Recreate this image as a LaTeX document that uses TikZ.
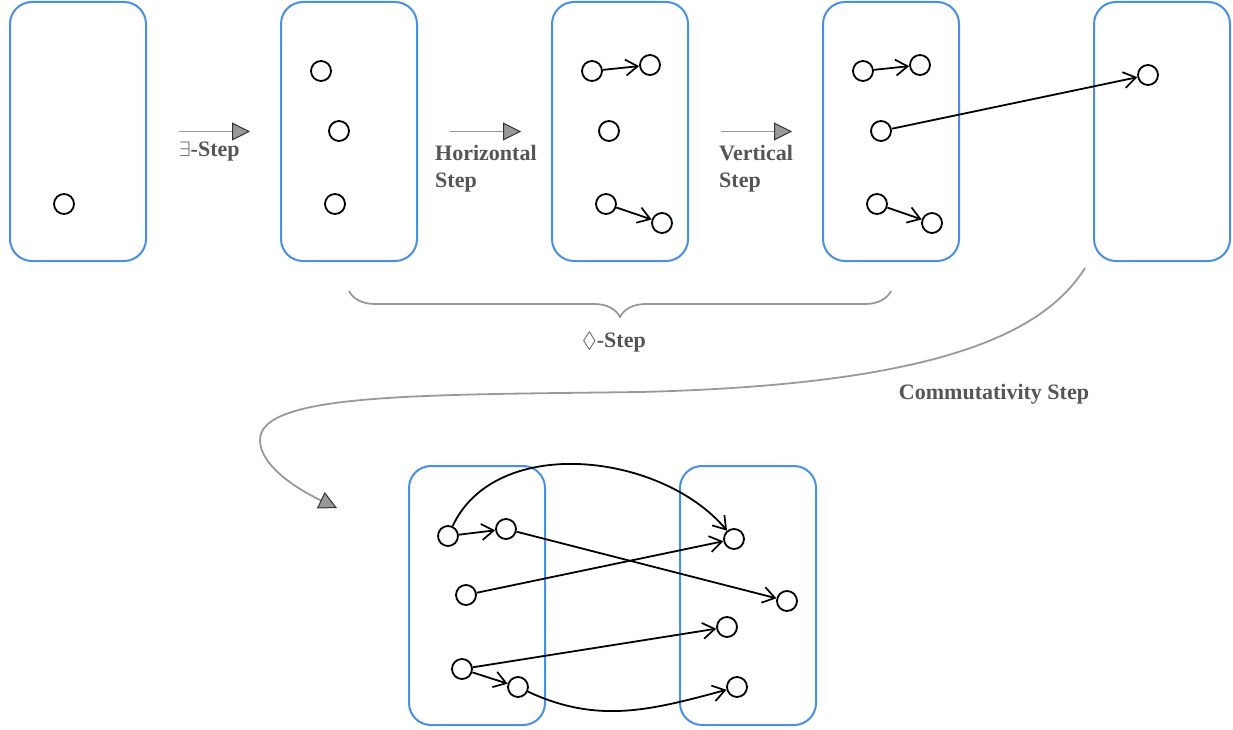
\documentclass[tikz,border=0pt]{standalone}
\usepackage{amssymb}
\usepackage{fontspec}
\setmainfont{Liberation Serif}
\usetikzlibrary{arrows.meta,decorations.pathreplacing}
\definecolor{boxblue}{RGB}{74,144,226}
\definecolor{stepgray}{RGB}{153,153,153}
\definecolor{txtgray}{RGB}{85,85,85}
\begin{document}
\begin{tikzpicture}[x=1pt,y=1pt,
  box/.style={draw=boxblue,line width=2pt,rounded corners=22pt,minimum width=136pt,minimum height=259pt,inner sep=0},
  dot/.style={circle,draw=black,fill=white,line width=1.8pt,minimum size=20pt,inner sep=0},
  lnk/.style={-{Straight Barb[length=12pt,width=16pt,line width=1.7pt]},line width=1.8pt},
  stepar/.style={draw=stepgray,line width=1.8pt,-{Triangle[length=18pt,width=18pt,color=black!80,fill=stepgray,line width=1pt]}},
  bracestyle/.style={draw=stepgray,line width=1.8pt,decorate,decoration={brace,mirror,amplitude=26pt}},
  lbl/.style={text=txtgray,font=\fontsize{22}{27}\selectfont\bfseries,inner sep=0}]
\useasboundingbox (0,0) rectangle (1233,-730);

% boxes
\node[box] (b1) at (78,-131.5) {};
\node[box] (b2) at (349,-131.5) {};
\node[box] (b3) at (620,-131.5) {};
\node[box] (b4) at (891,-131.5) {};
\node[box] (b5) at (1162,-131.5) {};
\node[box] (bl) at (477,-595.5) {};
\node[box] (br) at (748,-595.5) {};

% dots
\node[dot] (c1) at (64,-204) {};
\node[dot] (c2a) at (321,-71) {};
\node[dot] (c2b) at (339,-131) {};
\node[dot] (c2c) at (335,-204) {};
\node[dot] (c3a) at (592,-71) {};
\node[dot] (c3d) at (650,-65) {};
\node[dot] (c3b) at (609,-131) {};
\node[dot] (c3c) at (606,-204) {};
\node[dot] (c3e) at (662,-223) {};
\node[dot] (c4a) at (863,-71) {};
\node[dot] (c4d) at (920,-65) {};
\node[dot] (c4b) at (881,-131) {};
\node[dot] (c4c) at (877,-204) {};
\node[dot] (c4e) at (932,-223) {};
\node[dot] (c5) at (1148,-75) {};
\node[dot] (l1) at (448,-536) {};
\node[dot] (l2) at (506,-529) {};
\node[dot] (l3) at (466,-595) {};
\node[dot] (l4) at (462,-669) {};
\node[dot] (l5) at (518,-687) {};
\node[dot] (r1) at (734,-539) {};
\node[dot] (r2) at (787,-601) {};
\node[dot] (r3) at (727,-627) {};
\node[dot] (r4) at (737,-687) {};

% links
\draw[lnk] (c3a) -- (c3d);
\draw[lnk] (c3c) -- (c3e);
\draw[lnk] (c4a) -- (c4d);
\draw[lnk] (c4c) -- (c4e);
\draw[lnk] (c4b) -- (c5);
\draw[lnk] (l1) -- (l2);
\draw[lnk] (l1) to[out=65,in=130,looseness=0.95] (r1);
\draw[lnk] (l2) -- (r2);
\draw[lnk] (l3) -- (r1);
\draw[lnk] (l4) -- (r3);
\draw[lnk] (l4) -- (l5);
\draw[lnk] (l5) to[out=-25,in=195] (r4);

% step arrows
\draw[stepar] ([xshift=32pt]b1.east) -- ([xshift=-30pt]b2.west);
\draw[stepar] ([xshift=32pt]b2.east) -- ([xshift=-30pt]b3.west);
\draw[stepar] ([xshift=32pt]b3.east) -- ([xshift=-30pt]b4.west);

\node[lbl,anchor=base west] (t1) at (179,-157) {$\exists$-Step};
\node[lbl,anchor=north west,align=left] (t2) at (435,-145) {Horizontal\\Step};
\node[lbl,anchor=north west,align=left] (t3) at (719,-145) {Vertical\\Step};

% brace
\draw[bracestyle] ([yshift=-29pt]b2.south) -- ([yshift=-29pt]b4.south);
\node[lbl,anchor=base] (t4) at (614,-347) {$\Diamond$-Step};

% commutativity
\coordinate (cs) at (1085,-268);
\coordinate (ce) at (337,-508);
\draw[stepar] (cs) .. controls (1040,-340) and (920,-385) .. (640,-392)
  .. controls (420,-395) and (260,-393) .. (260,-440)
  .. controls (260,-465) and (295,-488) .. (ce);
\node[lbl,anchor=base] (t5) at (994,-399) {Commutativity Step};
\end{tikzpicture}
\end{document}
